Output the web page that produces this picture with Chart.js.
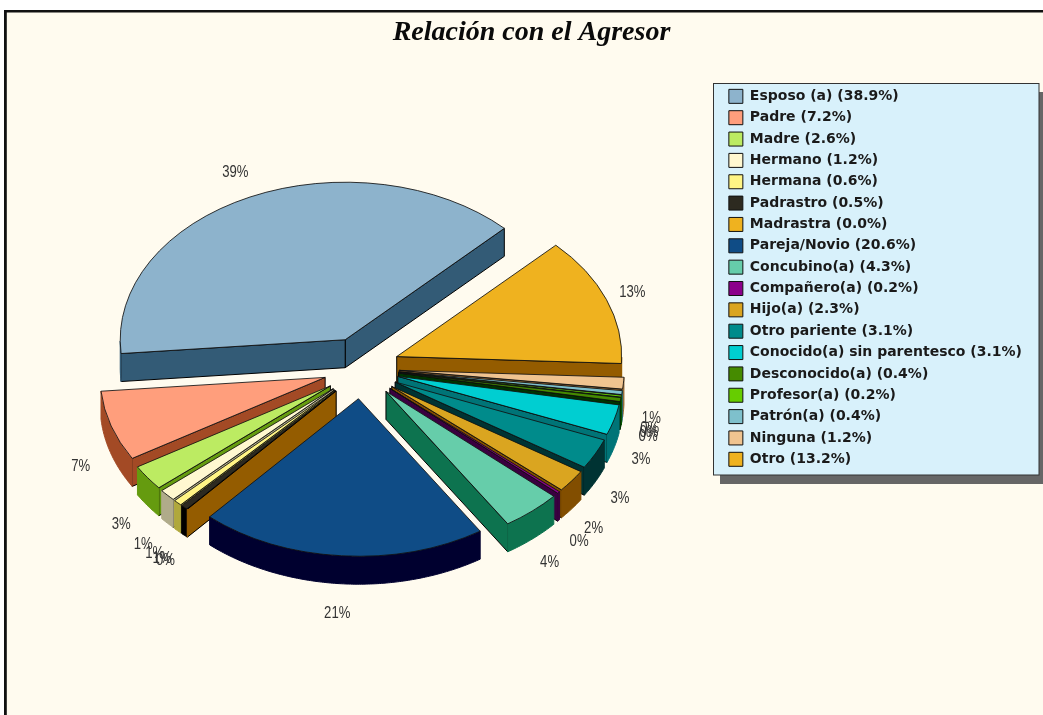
<!DOCTYPE html>
<html><head><meta charset="utf-8">
<style>html,body{margin:0;padding:0;background:#fff}canvas{display:block}#w{width:1043px;height:715px;position:relative}</style>
<script src="https://cdn.jsdelivr.net/npm/chart.js@4/dist/chart.umd.js"></script>
</head><body><div id="w"><canvas id="c" width="1043" height="715"></canvas></div>
<script>
const categories = ["Esposo (a)","Padre","Madre","Hermano","Hermana","Padrastro","Madrastra","Pareja/Novio","Concubino(a)","Compañero(a)","Hijo(a)","Otro pariente","Conocido(a) sin parentesco","Desconocido(a)","Profesor(a)","Patrón(a)","Ninguna","Otro"];
const values = [38.9,7.2,2.6,1.2,0.6,0.5,0.0,20.6,4.3,0.2,2.3,3.1,3.1,0.4,0.2,0.4,1.2,13.2];
const topColors = ["#8DB3CC","#FF9E7C","#BCEB62","#FFF8D0","#FFF585","#2D2A20","#EFB21F","#0F4C86","#66CDAA","#8B008B","#DAA520","#008B8B","#00CED1","#458B00","#66CD00","#7EC0CC","#F0C490","#EFB21F"];
const sideColors = ["#335B76","#A34A25","#659B0F","#B0AB8A","#B0A83C","#000000","#945C00","#00002F","#0D734F","#3A0040","#824E00","#003333","#007477","#003300","#0C7300","#246670","#966A36","#945C00"];
const title = "Relación con el Agresor";
const TILT = 0.7, DEPTH = 28, EXPLODE_X = 38, EXPLODE_Y = 31;

class Pie3DController extends Chart.PieController {
  static id = 'pie3d';
  draw() {
    const ctx = this.chart.ctx, meta = this.getMeta(), vals = this.getDataset().data;
    const items = meta.data.map((arc, i) => {
      const p = arc.getProps(['x','y','startAngle','endAngle','outerRadius'], true);
      const mid = (p.startAngle + p.endAngle) / 2;
      return {arc, i, p, mid, ex: -EXPLODE_X*Math.cos(mid), ey: EXPLODE_Y*Math.sin(mid)};
    });
    const sorted = items.slice().sort((a,b) => Math.sin(a.mid) - Math.sin(b.mid));
    sorted.forEach(it => {
      const {p, ex, ey} = it, cx = p.x + ex, cy = p.y + ey, R = p.outerRadius;
      const pt = a => [cx - R*Math.cos(a), cy + TILT*R*Math.sin(a)];
      ctx.save();
      ctx.fillStyle = sideColors[it.i]; ctx.strokeStyle = '#000'; ctx.lineWidth = 1; ctx.lineJoin='round';
      const side = a => {
        const q = pt(a);
        ctx.beginPath(); ctx.moveTo(cx,cy); ctx.lineTo(q[0],q[1]); ctx.lineTo(q[0],q[1]+DEPTH); ctx.lineTo(cx,cy+DEPTH); ctx.closePath();
        ctx.fill(); ctx.stroke();
      };
      if (Math.cos(p.startAngle) < 0) side(p.startAngle);
      if (Math.cos(p.endAngle) > 0) side(p.endAngle);
      const front = [];
      const n = Math.max(2, Math.ceil((p.endAngle - p.startAngle) / 0.01));
      for (let k = 0; k <= n; k++) {
        const a = p.startAngle + (p.endAngle - p.startAngle)*k/n;
        if (Math.sin(a) > 0) front.push(pt(a));
      }
      if (front.length > 1) {
        ctx.beginPath();
        front.forEach((q,k) => k ? ctx.lineTo(q[0],q[1]) : ctx.moveTo(q[0],q[1]));
        front.slice().reverse().forEach(q => ctx.lineTo(q[0],q[1]+DEPTH));
        ctx.closePath(); ctx.fill(); ctx.strokeStyle = sideColors[it.i]; ctx.stroke();
      }
      ctx.restore();
      ctx.save();
      ctx.translate(cx, cy); ctx.scale(-1, TILT); ctx.translate(-p.x, -p.y);
      it.arc.draw(ctx, this.chart.chartArea);
      ctx.restore();
    });
    ctx.save();
    ctx.font = "16px 'Liberation Sans',sans-serif";
    ctx.fillStyle = '#333'; ctx.textAlign='center'; ctx.textBaseline='middle';
    items.forEach(it => {
      const {p, ex, mid} = it, L = 255, s = Math.sin(mid);
      const x = p.x + ex - L*Math.cos(mid) - 2;
      const y = p.y + TILT*EXPLODE_X*s + TILT*L*s + (s > 0 ? DEPTH + 8*s : 16*s) + 5;
      ctx.save(); ctx.translate(x, y); ctx.scale(0.82, 1);
      ctx.fillText(Math.round(vals[it.i]) + '%', 0, 0);
      ctx.restore();
    });
    ctx.restore();
  }
}
Chart.register(Pie3DController);

const chrome = {
  id: 'chrome',
  afterLayout(chart) {
    const tb = chart.titleBlock; tb.left += 15; tb.right += 15;
    const lg = chart.legend; const w = lg.width; lg.left = 721.5; lg.right = 721.5 + w; lg.top = 82;
  },
  beforeDraw(chart) {
    const c = chart.ctx;
    c.save();
    c.fillStyle = '#fff'; c.fillRect(0,0,1043,715);
    c.fillStyle = '#FFFBEF'; c.fillRect(5,10,1038,705);
    c.fillStyle = '#111'; c.fillRect(4,10,1039,2.5); c.fillRect(4,10,2.8,705);
    c.fillStyle = '#666'; c.fillRect(720,92,323,392);
    c.fillStyle = '#D8F1FB'; c.strokeStyle = '#333'; c.lineWidth = 1;
    c.fillRect(713.5,83.5,325.5,391.5); c.strokeRect(713.5,83.5,325.5,391.5);
    c.restore();
  }
};

new Chart(document.getElementById('c'), {
  type: 'pie3d',
  data: {
    labels: categories.map((c,i) => `${c} (${values[i].toFixed(1)}%)`),
    datasets: [{ data: values, backgroundColor: topColors, borderColor: '#111', borderWidth: 1, hoverOffset: 0, clip: false }]
  },
  options: {
    responsive: false, animation: false, rotation: 315, radius: 225,
    layout: { padding: { left: 4, right: 14, top: 0, bottom: 31 } },
    plugins: {
      tooltip: { enabled: false },
      title: { display: true, text: title, color: '#0a0a0a', padding: { top: 16, bottom: 2 },
        font: { family: "'Liberation Serif',serif", size: 28, weight: 'bold', style: 'italic' } },
      legend: { position: 'right', align: 'start',
        labels: { boxWidth: 14, boxHeight: 14, padding: 7.35, color: '#1a1a1a',
          font: { family: "'DejaVu Sans',sans-serif", size: 14, weight: 'bold' } } }
    }
  },
  plugins: [chrome]
});
</script></body></html>
